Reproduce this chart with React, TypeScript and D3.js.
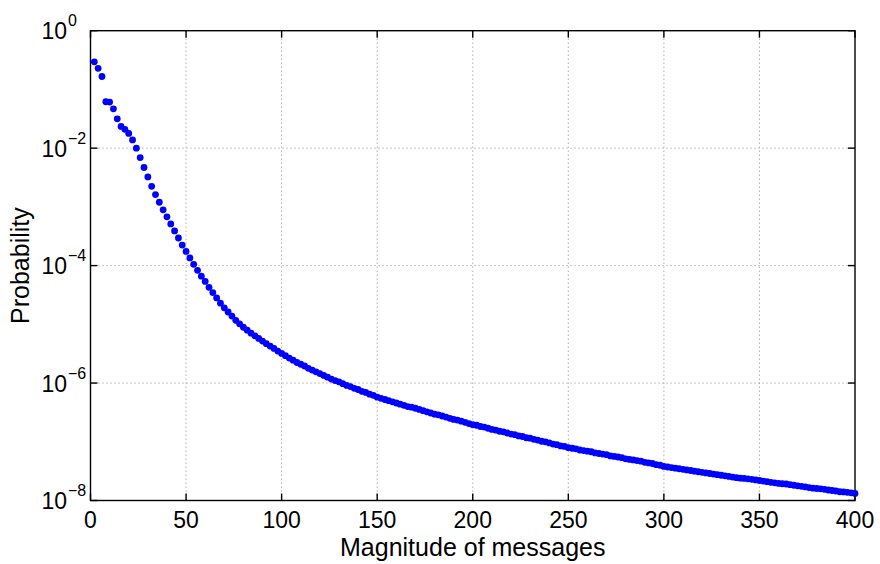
import React from 'react';
import * as d3 from 'd3';

const WIDTH = 880;
const HEIGHT = 564;

// Magnitudes run 2, 4, ..., 400
const magnitudeStart = 2;
const magnitudeStep = 2;

const probability = [
  2.95e-1, 2.29e-1, 1.66e-1, 6.17e-2, 6.10e-2, 4.68e-2, 3.16e-2, 2.34e-2, 2.09e-2, 1.78e-2,
  1.38e-2, 1.00e-2, 6.92e-3, 4.68e-3, 3.24e-3, 2.24e-3, 1.62e-3, 1.20e-3, 8.91e-4, 6.76e-4,
  5.13e-4, 3.89e-4, 2.95e-4, 2.24e-4, 1.74e-4, 1.35e-4, 1.05e-4, 8.32e-5, 6.61e-5, 5.37e-5,
  4.27e-5, 3.47e-5, 2.82e-5, 2.29e-5, 1.91e-5, 1.62e-5, 1.38e-5, 1.17e-5, 1.02e-5, 8.91e-6,
  7.94e-6, 7.08e-6, 6.38e-6, 5.75e-6, 5.19e-6, 4.68e-6, 4.27e-6, 3.89e-6, 3.51e-6, 3.20e-6,
  2.92e-6, 2.66e-6, 2.45e-6, 2.24e-6, 2.09e-6, 1.95e-6, 1.78e-6, 1.66e-6, 1.55e-6, 1.45e-6,
  1.35e-6, 1.26e-6, 1.17e-6, 1.10e-6, 1.05e-6, 9.77e-7, 9.12e-7, 8.71e-7, 8.13e-7, 7.76e-7,
  7.24e-7, 6.92e-7, 6.46e-7, 6.17e-7, 5.75e-7, 5.50e-7, 5.25e-7, 5.01e-7, 4.79e-7, 4.57e-7,
  4.37e-7, 4.17e-7, 3.98e-7, 3.89e-7, 3.72e-7, 3.55e-7, 3.39e-7, 3.24e-7, 3.09e-7, 2.95e-7,
  2.88e-7, 2.75e-7, 2.63e-7, 2.51e-7, 2.40e-7, 2.34e-7, 2.24e-7, 2.14e-7, 2.04e-7, 1.95e-7,
  1.91e-7, 1.82e-7, 1.78e-7, 1.70e-7, 1.62e-7, 1.58e-7, 1.51e-7, 1.48e-7, 1.41e-7, 1.35e-7,
  1.32e-7, 1.26e-7, 1.23e-7, 1.17e-7, 1.15e-7, 1.10e-7, 1.07e-7, 1.02e-7, 1.00e-7, 9.55e-8,
  9.12e-8, 8.91e-8, 8.51e-8, 8.32e-8, 7.94e-8, 7.76e-8, 7.59e-8, 7.24e-8, 7.08e-8, 6.92e-8,
  6.76e-8, 6.46e-8, 6.31e-8, 6.17e-8, 6.03e-8, 5.75e-8, 5.62e-8, 5.50e-8, 5.37e-8, 5.13e-8,
  5.01e-8, 4.90e-8, 4.79e-8, 4.68e-8, 4.47e-8, 4.37e-8, 4.27e-8, 4.07e-8, 3.98e-8, 3.80e-8,
  3.72e-8, 3.63e-8, 3.55e-8, 3.47e-8, 3.39e-8, 3.31e-8, 3.24e-8, 3.16e-8, 3.09e-8, 3.02e-8,
  2.95e-8, 2.88e-8, 2.82e-8, 2.75e-8, 2.69e-8, 2.63e-8, 2.57e-8, 2.51e-8, 2.45e-8, 2.40e-8,
  2.38e-8, 2.34e-8, 2.29e-8, 2.24e-8, 2.19e-8, 2.14e-8, 2.09e-8, 2.04e-8, 2.00e-8, 1.95e-8,
  1.93e-8, 1.91e-8, 1.86e-8, 1.82e-8, 1.78e-8, 1.74e-8, 1.70e-8, 1.66e-8, 1.62e-8, 1.60e-8,
  1.58e-8, 1.55e-8, 1.51e-8, 1.48e-8, 1.45e-8, 1.41e-8, 1.40e-8, 1.38e-8, 1.35e-8, 1.32e-8,
];

const xTicks = [0, 50, 100, 150, 200, 250, 300, 350, 400];
const yTickExponents = [0, -2, -4, -6, -8];

const xLabel = 'Magnitude of messages';
const yLabel = 'Probability';

const FONT = '"Liberation Sans", Arial, Helvetica, sans-serif';

export default function App() {
  const left = 90.5;
  const right = 855;
  const top = 30.7;
  const bottom = 500.5;
  const tickLen = 7;

  const x = d3.scaleLinear().domain([0, 400]).range([left, right]);
  const y = d3.scaleLog().domain([1e-8, 1]).range([bottom, top]);

  const points = probability.map((p, i) => ({
    m: magnitudeStart + i * magnitudeStep,
    p,
  }));

  const minus = (e: number) => (e < 0 ? '\u2212' + Math.abs(e) : String(e));

  return (
    <svg
      width={WIDTH}
      height={HEIGHT}
      style={{ position: 'absolute', left: 0, top: 0, background: '#fff' }}
      fontFamily={FONT}
    >
      <rect x={0} y={0} width={WIDTH} height={HEIGHT} fill="#fff" />

      {/* dotted grid */}
      <g stroke="#8c8c8c" strokeWidth={1} strokeDasharray="1,3" fill="none">
        {xTicks
          .filter((t) => t !== 0 && t !== 400)
          .map((t) => (
            <line key={'gx' + t} x1={x(t)} x2={x(t)} y1={top} y2={bottom} />
          ))}
        {yTickExponents
          .filter((e) => e !== 0 && e !== -8)
          .map((e) => (
            <line key={'gy' + e} x1={left} x2={right} y1={y(Math.pow(10, e))} y2={y(Math.pow(10, e))} />
          ))}
      </g>

      {/* axes box and inward ticks */}
      <g stroke="#000" strokeWidth={1.4} fill="none">
        <rect x={left} y={top} width={right - left} height={bottom - top} />
        {xTicks.map((t) => (
          <g key={'tx' + t}>
            <line x1={x(t)} x2={x(t)} y1={bottom} y2={bottom - tickLen} />
            <line x1={x(t)} x2={x(t)} y1={top} y2={top + tickLen} />
          </g>
        ))}
        {yTickExponents.map((e) => {
          const yy = y(Math.pow(10, e));
          return (
            <g key={'ty' + e}>
              <line x1={left} x2={left + tickLen} y1={yy} y2={yy} />
              <line x1={right} x2={right - tickLen} y1={yy} y2={yy} />
            </g>
          );
        })}
      </g>

      {/* x tick labels */}
      <g fontSize={23} fill="#000" textAnchor="middle">
        {xTicks.map((t) => (
          <text key={'lx' + t} x={x(t)} y={528}>
            {t}
          </text>
        ))}
      </g>

      {/* y tick labels as powers of ten */}
      <g fill="#000">
        {yTickExponents.map((e) => {
          const yy = y(Math.pow(10, e));
          return (
            <g key={'ly' + e}>
              <text x={67} y={yy + 8.5} fontSize={23} textAnchor="end">
                10
              </text>
              <text x={68} y={yy - 4.5} fontSize={16} textAnchor="start">
                {minus(e)}
              </text>
            </g>
          );
        })}
      </g>

      {/* axis titles */}
      <text x={(left + right) / 2} y={556} fontSize={25} textAnchor="middle" fill="#000">
        {xLabel}
      </text>
      <text
        transform={`translate(29, ${(top + bottom) / 2}) rotate(-90)`}
        fontSize={25}
        textAnchor="middle"
        fill="#000"
      >
        {yLabel}
      </text>

      {/* data markers */}
      <g fill="#0000ff">
        {points.map((d) => (
          <circle key={d.m} cx={x(d.m)} cy={y(d.p)} r={3.4} />
        ))}
      </g>
    </svg>
  );
}
